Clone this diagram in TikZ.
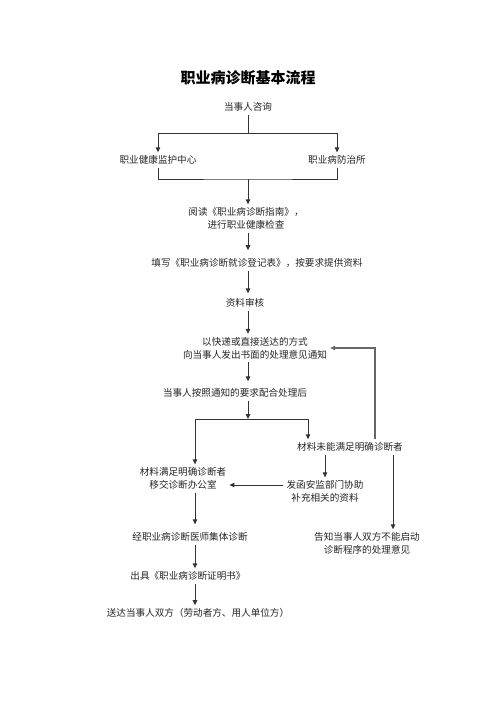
\documentclass[tikz,border=0pt]{standalone}
\usepackage{fontspec}
\newfontfamily\cjk{Noto Sans CJK SC}
\usetikzlibrary{arrows.meta,calc}
\begin{document}
\begin{tikzpicture}[x=1pt,y=-1pt,
  txt/.style={font=\cjk\fontsize{9.6}{13}\selectfont, text=black!85, inner sep=3pt, align=center},
  ttl/.style={font=\cjk\bfseries\fontsize{15}{18}\selectfont, inner sep=0pt},
  ln/.style={draw=black!80, line width=1pt},
  arr/.style={ln, -{Triangle[length=5pt,width=4.5pt]}},
  fb/.style={draw=black!60, line width=1.3pt, -{Triangle[length=5pt,width=4.5pt]}}]
\useasboundingbox[fill=white] (0,0) rectangle (496,702);

\node[ttl] (title) at (248,78) {职业病诊断基本流程};
\node[txt] (consult) at (248,107) {当事人咨询};
\node[txt] (center) at (158,160) {职业健康监护中心};
\node[txt] (inst) at (337,160) {职业病防治所};
\node[txt] (read) at (246,218.5) {阅读《职业病诊断指南》，\\进行职业健康检查};
\node[txt] (fill) at (257,263) {填写《职业病诊断就诊登记表》，按要求提供资料};
\node[txt] (review) at (245,303) {资料审核};
\node[txt] (notify) at (255,348) {以快递或直接送达的方式\\向当事人发出书面的处理意见通知};
\node[txt] (after) at (235,393) {当事人按照通知的要求配合处理后};
\node[txt] (notmet) at (350,447) {材料未能满足明确诊断者};
\node[txt] (met) at (183,478.5) {材料满足明确诊断者\\移交诊断办公室};
\node[txt] (letter) at (325,491.5) {发函安监部门协助\\补充相关的资料};
\node[txt] (inform) at (367,543.5) {告知当事人双方不能启动\\诊断程序的处理意见};
\node[txt] (diag) at (190,537) {经职业病诊断医师集体诊断};
\node[txt] (cert) at (188,576) {出具《职业病诊断证明书》};
\node[txt] (deliver) at (198,613) {送达当事人双方（劳动者方、用人单位方）};

\coordinate (j1) at (248,133);
\coordinate (j2) at (248,179);
\coordinate (j3) at (248,419);
\coordinate (jl) at (195,419);
\coordinate (jr) at (308,419);

\draw[ln] (consult.south) -- (j1);
\draw[arr] (j1) -| (center.north);
\draw[arr] (j1) -| (inst.north);
\draw[ln] (center.south) |- (j2) -| (inst.south);
\draw[arr] (j2) -- (j2 |- read.north);
\draw[arr] (j2 |- read.south) -- ([yshift=5pt]j2 |- fill.north);
\draw[arr] (j2 |- fill.south) -- ([yshift=2pt]j2 |- review.north);
\draw[arr] (j2 |- review.south) -- (j2 |- notify.north);
\draw[arr] (j2 |- notify.south) -- ([yshift=4pt]j2 |- after.north);
\draw[arr] (j2 |- after.south) -- (j3);
\draw[ln] (jl) -- (jr);
\draw[arr] (jl) -- (jl |- met.north);
\draw[arr] (jr) -- (jr |- notmet.north);
\draw[fb] ([xshift=25pt]notmet.north) |- (notify.east);
\draw[arr] (notmet.south -| letter.north) -- (letter.north);
\draw[arr] ([yshift=6.5pt]letter.west) -- ([yshift=6.5pt]letter.west -| met.east);
\draw[arr] ([xshift=43pt]notmet.south) -- ([xshift=43pt]notmet.south |- inform.north);
\draw[arr] (jl |- met.south) -- ([yshift=5pt]jl |- diag.north);
\draw[arr] (jl |- diag.south) -- (jl |- cert.north);
\draw[arr] (jl |- cert.south) -- (jl |- deliver.north);
\end{tikzpicture}
\end{document}
